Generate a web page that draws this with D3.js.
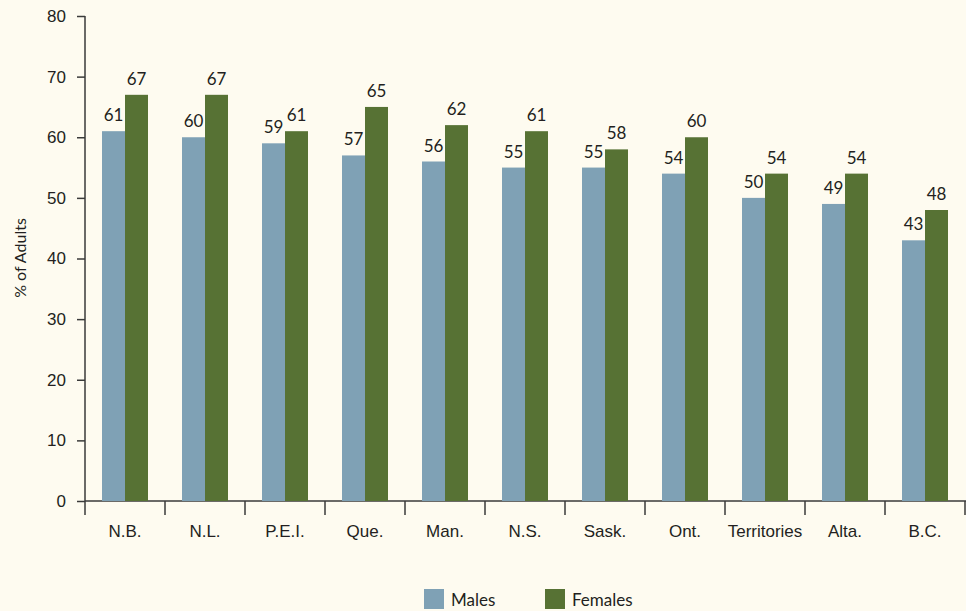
<!DOCTYPE html>
<html><head><meta charset="utf-8">
<script src="https://cdn.jsdelivr.net/npm/d3@7"></script>
<style>
html,body{margin:0;padding:0;background:#fefbf0;}
svg{display:block;font-family:"Lato","Open Sans",sans-serif;}
</style></head>
<body><svg id="c" width="966" height="611"></svg>
<script>
const categories = ["N.B.","N.L.","P.E.I.","Que.","Man.","N.S.","Sask.","Ont.","Territories","Alta.","B.C."];
const males   = [61,60,59,57,56,55,55,54,50,49,43];
const females = [67,67,61,65,62,61,58,60,54,54,48];
const seriesNames = ["Males","Females"];
const colors = ["#7fa1b5","#577234"];
const yTicks = [0,10,20,30,40,50,60,70,80];

const svg = d3.select("#c");
const x = d3.scaleBand().domain(categories).range([85,965]).padding(0);
const y = d3.scaleLinear().domain([0,80]).range([501,16]);
const sub = d3.scaleBand().domain(seriesNames).range([17,63]);
const textColor = "#231f20";

// y axis
const ya = svg.append("g").attr("transform","translate(85,0)")
  .call(d3.axisLeft(y).tickValues(yTicks).tickSize(8).tickPadding(11).tickFormat(d3.format("d")));
ya.select(".domain").attr("stroke","#3a3a3a").attr("stroke-width",1.5).attr("d","M0,"+y(80)+"V"+y(0));
ya.selectAll(".tick line").attr("stroke","#3a3a3a").attr("stroke-width",1.5);
ya.selectAll(".tick text").attr("font-size",17).attr("fill",textColor);

// x axis
const xa = svg.append("g").attr("transform","translate(0,501)")
  .call(d3.axisBottom(x).tickSize(0).tickPadding(24));
xa.select(".domain").attr("stroke","#3a3a3a").attr("stroke-width",1.5).attr("d","M85,0H966");
xa.selectAll(".tick text").attr("font-size",17).attr("fill",textColor);
const bounds = categories.map((c,i)=>x(c)).concat([x(categories[categories.length-1])+x.bandwidth()]);
svg.append("g").selectAll("line").data(bounds).join("line")
  .attr("x1",d=>d).attr("x2",d=>d).attr("y1",501).attr("y2",515)
  .attr("stroke","#3a3a3a").attr("stroke-width",1.5);

// bars
const data = categories.map((c,i)=>({c, vals:[males[i],females[i]]}));
const g = svg.append("g").selectAll("g").data(data).join("g")
  .attr("transform",d=>`translate(${x(d.c)},0)`);
g.selectAll("rect").data(d=>d.vals.map((v,j)=>({v,s:seriesNames[j],j}))).join("rect")
  .attr("x",d=>sub(d.s)).attr("width",sub.bandwidth())
  .attr("y",d=>y(d.v)).attr("height",d=>y(0)-y(d.v))
  .attr("fill",d=>colors[d.j]);
g.selectAll("text").data(d=>d.vals.map((v,j)=>({v,s:seriesNames[j],j}))).join("text")
  .attr("x",d=>sub(d.s)+sub.bandwidth()/2).attr("y",d=>y(d.v)-10)
  .attr("text-anchor","middle").attr("font-size",17).attr("fill",textColor)
  .text(d=>d.v);

// y label
svg.append("text").attr("transform","translate(26,258) rotate(-90)")
  .attr("text-anchor","middle").attr("font-size",16).attr("fill",textColor).text("% of Adults");

// legend
const lx = [424,545];
const lg = svg.append("g").selectAll("g").data(seriesNames).join("g")
  .attr("transform",(d,i)=>`translate(${lx[i]},589)`);
lg.append("rect").attr("width",20).attr("height",20).attr("fill",(d,i)=>colors[i]);
lg.append("text").attr("x",27).attr("y",17).attr("font-size",17).attr("fill",textColor).text(d=>d);
</script></body></html>
